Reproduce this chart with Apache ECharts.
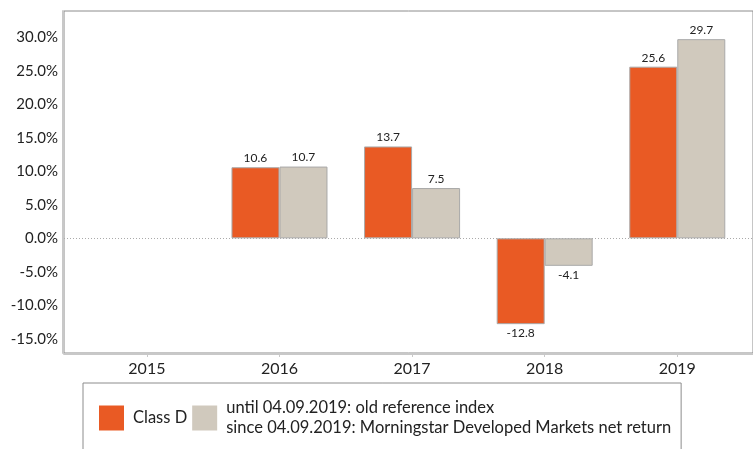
<!DOCTYPE html>
<html>
<head>
<meta charset="utf-8">
<script src="https://cdn.jsdelivr.net/npm/echarts@6/dist/echarts.min.js"></script>
<style>
  html, body { margin: 0; padding: 0; background: #fff; }
  #chart { width: 753px; height: 449px; }
</style>
</head>
<body>
<div id="chart"></div>
<script>
// chart data
const years = ['2015', '2016', '2017', '2018', '2019'];
const classD = [null, 10.6, 13.7, -12.8, 25.6];
const reference = [null, 10.7, 7.5, -4.1, 29.7];
const yTicks = [-15, -10, -5, 0, 5, 10, 15, 20, 25, 30];

const seriesNames = [
  'Class D',
  'until 04.09.2019: old reference index\nsince 04.09.2019: Morningstar Developed Markets net return'
];
const colors = ['#E95A24', '#D0C9BD'];
const font = 'Lato, "Liberation Sans", sans-serif';

// [x, y] pairs on a numeric x axis so the frame can run wider than the bars
function toData(values) {
  return values.map((v, i) => {
    if (v === null) return { value: [i, '-'] };
    return {
      value: [i, v],
      label: { position: v < 0 ? 'bottom' : 'top' }
    };
  });
}

function barSeries(name, values, color, withZeroLine) {
  const s = {
    name: name,
    type: 'bar',
    barWidth: 48,
    barGap: '0%',
    data: toData(values),
    itemStyle: { color: color, borderColor: '#a9a9a9', borderWidth: 1 },
    label: {
      show: true,
      distance: 3,
      color: '#222',
      fontFamily: font,
      fontSize: 12,
      formatter: p => p.value[1].toFixed(1)
    }
  };
  if (withZeroLine) {
    s.markLine = {
      silent: true,
      symbol: 'none',
      label: { show: false },
      lineStyle: { color: '#aaa', type: [1, 2], width: 1 },
      data: [{ yAxis: 0 }]
    };
  }
  return s;
}

const chart = echarts.init(document.getElementById('chart'), null, { renderer: 'canvas' });

chart.setOption({
  animation: false,
  backgroundColor: '#fff',
  grid: {
    left: 64, top: 11, right: 0, bottom: 96,
    show: true, borderColor: '#8c8c8c', borderWidth: 1
  },
  xAxis: {
    type: 'value',
    min: -0.625,
    max: 4.571,
    offset: 1,
    splitLine: { show: false },
    axisLine: { show: true, onZero: false, lineStyle: { color: '#c8c8c8', width: 2 } },
    axisTick: {
      show: true, length: 3, customValues: years.map((y, i) => i),
      lineStyle: { color: '#c8c8c8' }
    },
    axisLabel: {
      customValues: years.map((y, i) => i),
      formatter: v => years[Math.round(v)],
      margin: 7,
      color: '#222',
      fontFamily: font,
      fontSize: 16
    }
  },
  yAxis: {
    type: 'value',
    min: -17.1,
    max: 33.9,
    offset: 1,
    splitLine: { show: false },
    axisTick: { show: false },
    axisLine: { show: true, onZero: false, lineStyle: { color: '#c8c8c8', width: 2 } },
    axisLabel: {
      customValues: yTicks,
      formatter: v => v.toFixed(1) + '%',
      margin: 5,
      color: '#222',
      fontFamily: font,
      fontSize: 15
    }
  },
  legend: {
    left: 83,
    top: 383,
    orient: 'horizontal',
    data: seriesNames,
    icon: 'rect',
    itemWidth: 25,
    itemHeight: 25,
    itemGap: 5,
    padding: [15, 10, 40, 16],
    borderColor: '#8c8c8c',
    borderWidth: 1,
    itemStyle: { borderWidth: 0 },
    textStyle: {
      color: '#222',
      fontFamily: font,
      fontSize: 16.5,
      lineHeight: 20,
      padding: [0, 0, 0, 4]
    }
  },
  series: [
    barSeries(seriesNames[0], classD, colors[0], true),
    barSeries(seriesNames[1], reference, colors[1], false)
  ]
});
</script>
</body>
</html>
